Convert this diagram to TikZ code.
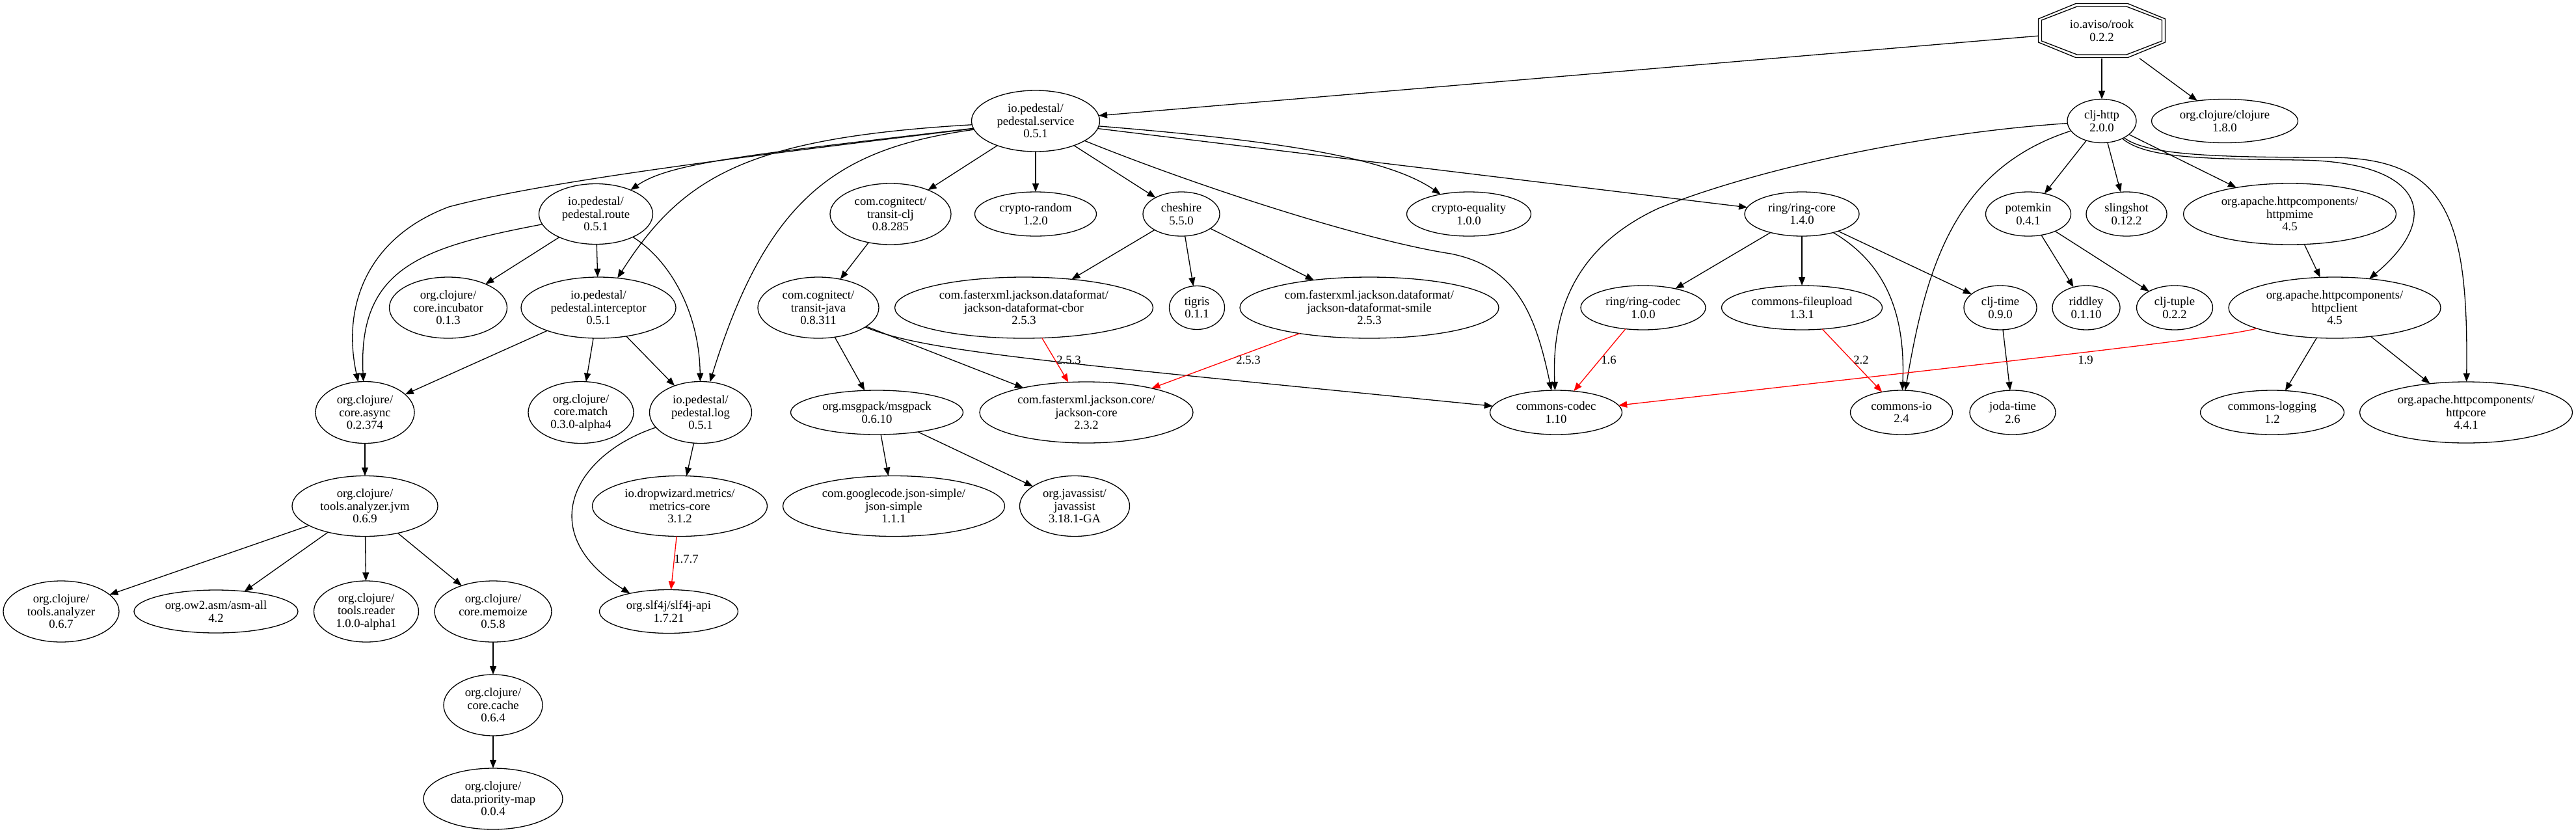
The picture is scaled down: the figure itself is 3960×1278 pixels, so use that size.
\documentclass[tikz,border=0pt]{standalone}
\usepackage{fontspec}
\setmainfont{Liberation Serif}
\usetikzlibrary{shapes.geometric,arrows.meta}
\begin{document}
\begin{tikzpicture}[x=1pt,y=-1pt,
  every node/.style={font=\fontsize{18.7}{19.5}\selectfont, align=center},
  dep/.style={ellipse, draw, line width=1.3pt, inner sep=0pt, outer sep=0pt},
  edge/.style={line width=1.3pt, -{Triangle[length=13pt,width=10pt]}},
  redge/.style={edge, draw=red},
  lbl/.style={inner sep=0pt}]
\useasboundingbox[fill=white] (0,0) rectangle (3960,1278);

% ---- rank 0
\node[inner sep=0pt, minimum width=195, minimum height=85] (rook) at (3231,47) {io.aviso/rook\\0.2.2};
\draw[line width=1.3pt, shift={(rook.center)}] (-40,-41.5) -- (40,-41.5) -- (97.5,-18) -- (97.5,18) -- (40,41.5) -- (-40,41.5) -- (-97.5,18) -- (-97.5,-18) -- cycle;
\draw[line width=1.3pt, shift={(rook.center)}] (-38,-37) -- (38,-37) -- (92.5,-16) -- (92.5,16) -- (38,37) -- (-38,37) -- (-92.5,16) -- (-92.5,-16) -- cycle;

% ---- rank 1
\node[dep,minimum width=197,minimum height=94] (svc) at (1592,186) {io.pedestal/\\pedestal.service\\0.5.1};
\node[dep,minimum width=106,minimum height=67] (http) at (3231,186) {clj-http\\2.0.0};
\node[dep,minimum width=225,minimum height=67] (clj) at (3420,186) {org.clojure/clojure\\1.8.0};

% ---- rank 2
\node[dep,minimum width=175,minimum height=93] (route) at (916,329) {io.pedestal/\\pedestal.route\\0.5.1};
\node[dep,minimum width=186,minimum height=94] (tclj) at (1369,329) {com.cognitect/\\transit-clj\\0.8.285};
\node[dep,minimum width=187,minimum height=68] (crand) at (1592,329) {crypto-random\\1.2.0};
\node[dep,minimum width=118,minimum height=68] (chesh) at (1816,329) {cheshire\\5.5.0};
\node[dep,minimum width=191,minimum height=68] (cequal) at (2258,329) {crypto-equality\\1.0.0};
\node[dep,minimum width=176,minimum height=68] (ringcore) at (2770,329) {ring/ring-core\\1.4.0};
\node[dep,minimum width=131,minimum height=68] (potemkin) at (3118,329) {potemkin\\0.4.1};
\node[dep,minimum width=124,minimum height=68] (sling) at (3269,329) {slingshot\\0.12.2};
\node[dep,minimum width=327,minimum height=94] (hmime) at (3520,329) {org.apache.httpcomponents/\\httpmime\\4.5};

% ---- rank 3
\node[dep,minimum width=181,minimum height=94] (incub) at (689,473) {org.clojure/\\core.incubator\\0.1.3};
\node[dep,minimum width=238,minimum height=94] (icpt) at (920,473) {io.pedestal/\\pedestal.interceptor\\0.5.1};
\node[dep,minimum width=186,minimum height=94] (tjava) at (1258,473) {com.cognitect/\\transit-java\\0.8.311};
\node[dep,minimum width=397,minimum height=94] (cbor) at (1574,473) {com.fasterxml.jackson.dataformat/\\jackson-dataformat-cbor\\2.5.3};
\node[dep,minimum width=85,minimum height=67] (tigris) at (1840,473) {tigris\\0.1.1};
\node[dep,minimum width=398,minimum height=94] (smile) at (2105,473) {com.fasterxml.jackson.dataformat/\\jackson-dataformat-smile\\2.5.3};
\node[dep,minimum width=192,minimum height=68] (rcodec) at (2526,473) {ring/ring-codec\\1.0.0};
\node[dep,minimum width=247,minimum height=68] (fup) at (2770,473) {commons-fileupload\\1.3.1};
\node[dep,minimum width=112,minimum height=68] (ctime) at (3075,473) {clj-time\\0.9.0};
\node[dep,minimum width=104,minimum height=68] (riddley) at (3207,473) {riddley\\0.1.10};
\node[dep,minimum width=117,minimum height=68] (tuple) at (3343,473) {clj-tuple\\0.2.2};
\node[dep,minimum width=326,minimum height=94] (hclient) at (3589,473) {org.apache.httpcomponents/\\httpclient\\4.5};

% ---- rank 4
\node[dep,minimum width=152,minimum height=95] (async) at (561,634) {org.clojure/\\core.async\\0.2.374};
\node[dep,minimum width=162,minimum height=95] (match) at (893,634) {org.clojure/\\core.match\\0.3.0-alpha4};
\node[dep,minimum width=157,minimum height=95] (plog) at (1077,634) {io.pedestal/\\pedestal.log\\0.5.1};
\node[dep,minimum width=265,minimum height=68] (msgpack) at (1348,634) {org.msgpack/msgpack\\0.6.10};
\node[dep,minimum width=328,minimum height=94] (jcore) at (1670,634) {com.fasterxml.jackson.core/\\jackson-core\\2.3.2};
\node[dep,minimum width=203,minimum height=68] (codec) at (2392,634) {commons-codec\\1.10};
\node[dep,minimum width=157,minimum height=68] (cio) at (2923,634) {commons-io\\2.4};
\node[dep,minimum width=132,minimum height=68] (joda) at (3094,634) {joda-time\\2.6};
\node[dep,minimum width=221,minimum height=68] (clog) at (3493,634) {commons-logging\\1.2};
\node[dep,minimum width=327,minimum height=94] (hcore) at (3791,634) {org.apache.httpcomponents/\\httpcore\\4.4.1};

% ---- rank 5
\node[dep,minimum width=224,minimum height=93] (jvm) at (561,778) {org.clojure/\\tools.analyzer.jvm\\0.6.9};
\node[dep,minimum width=269,minimum height=93] (metrics) at (1045,778) {io.dropwizard.metrics/\\metrics-core\\3.1.2};
\node[dep,minimum width=341,minimum height=93] (jsimple) at (1374,778) {com.googlecode.json-simple/\\json-simple\\1.1.1};
\node[dep,minimum width=169,minimum height=93] (javassist) at (1652,778) {org.javassist/\\javassist\\3.18.1-GA};

% ---- rank 6..8
\node[dep,minimum width=178,minimum height=94] (tan) at (94,940) {org.clojure/\\tools.analyzer\\0.6.7};
\node[dep,minimum width=252,minimum height=66] (asm) at (332,940) {org.ow2.asm/asm-all\\4.2};
\node[dep,minimum width=161,minimum height=94] (reader) at (563,940) {org.clojure/\\tools.reader\\1.0.0-alpha1};
\node[dep,minimum width=180,minimum height=94] (memo) at (758,940) {org.clojure/\\core.memoize\\0.5.8};
\node[dep,minimum width=213,minimum height=67] (slf) at (1028,940) {org.slf4j/slf4j-api\\1.7.21};
\node[dep,minimum width=152,minimum height=94] (cache) at (758,1084) {org.clojure/\\core.cache\\0.6.4};
\node[dep,minimum width=214,minimum height=94] (pmap) at (758,1228) {org.clojure/\\data.priority-map\\0.0.4};

% ---- edge labels
\node[lbl] (l1) at (1643,553) {2.5.3};
\node[lbl] (l2) at (1919,553) {2.5.3};
\node[lbl] (l3) at (2473,553) {1.6};
\node[lbl] (l4) at (2861,553) {2.2};
\node[lbl] (l5) at (3206,553) {1.9};
\node[lbl] (l6) at (1055,859) {1.7.7};

% ---- edges from rook
\draw[edge] (rook) -- (svc);
\draw[edge] (rook) -- (http);
\draw[edge] (rook) -- (clj);

% ---- edges from pedestal.service
\draw[edge] (svc) .. controls (1150,238) and (1030,250) .. (route);
\draw[edge] (svc) .. controls (1150,240) and (840,278) .. (690,318) .. controls (565,365) and (525,470) .. (async);
\draw[edge] (svc) .. controls (1150,212) and (1050,270) .. (icpt);
\draw[edge] (svc) .. controls (1290,228) and (1180,300) .. (plog);
\draw[edge] (svc) -- (tclj);
\draw[edge] (svc) -- (crand);
\draw[edge] (svc) -- (chesh);
\draw[edge] (svc) .. controls (1950,215) and (2130,240) .. (cequal);
\draw[edge] (svc) .. controls (1850,290) and (2100,370) .. (2230,390) .. controls (2330,410) and (2360,480) .. (codec);
\draw[edge] (svc) -- (ringcore);

% ---- pedestal.route / interceptor
\draw[edge] (route) .. controls (650,380) and (550,410) .. (async);
\draw[edge] (route) -- (incub);
\draw[edge] (route) -- (icpt);
\draw[edge] (route) .. controls (1030,400) and (1075,480) .. (plog);
\draw[edge] (icpt) -- (async);
\draw[edge] (icpt) -- (match);
\draw[edge] (icpt) -- (plog);

% ---- core.async chain
\draw[edge] (async) -- (jvm);
\draw[edge] (jvm) -- (tan);
\draw[edge] (jvm) -- (asm);
\draw[edge] (jvm) -- (reader);
\draw[edge] (jvm) -- (memo);
\draw[edge] (memo) -- (cache);
\draw[edge] (cache) -- (pmap);

% ---- pedestal.log
\draw[edge] (plog) -- (metrics);
\draw[edge] (plog) .. controls (880,700) and (820,820) .. (slf.155);
\draw[redge] (metrics) -- (slf);

% ---- transit
\draw[edge] (tclj) -- (tjava);
\draw[edge] (tjava) -- (msgpack);
\draw[edge] (tjava) -- (jcore);
\draw[edge] (tjava) .. controls (1420,540) and (1600,555) .. (codec);
\draw[edge] (msgpack) -- (jsimple);
\draw[edge] (msgpack) -- (javassist);

% ---- cheshire
\draw[edge] (chesh) -- (cbor);
\draw[edge] (chesh) -- (tigris);
\draw[edge] (chesh) -- (smile);
\draw[redge] (cbor) -- (jcore);
\draw[redge] (smile) -- (jcore);

% ---- ring-core
\draw[edge] (ringcore) -- (rcodec);
\draw[edge] (ringcore) -- (fup);
\draw[edge] (ringcore) .. controls (2890,400) and (2930,470) .. (cio);
\draw[edge] (ringcore) -- (ctime);
\draw[redge] (rcodec) -- (codec);
\draw[redge] (fup) -- (cio);
\draw[edge] (ctime) -- (joda);

% ---- clj-http
\draw[edge] (http) .. controls (2950,205) and (2700,260) .. (2550,320) .. controls (2420,380) and (2385,480) .. (codec);
\draw[edge] (http) .. controls (3000,260) and (2960,420) .. (cio);
\draw[edge] (http) -- (potemkin);
\draw[edge] (http) -- (sling);
\draw[edge] (http) -- (hmime);
\draw[edge] (http) .. controls (3300,245) and (3400,244) .. (3534,246) .. controls (3720,248) and (3760,330) .. (hclient);
\draw[edge] (http) .. controls (3300,238) and (3400,242) .. (3580,242) .. controls (3760,242) and (3795,330) .. (hcore);
\draw[edge] (potemkin) -- (riddley);
\draw[edge] (potemkin) -- (tuple);
\draw[edge] (hmime) -- (hclient);
\draw[redge] (hclient) .. controls (3420,518) and (3200,543) .. (codec);
\draw[edge] (hclient) -- (clog);
\draw[edge] (hclient) -- (hcore);
\end{tikzpicture}
\end{document}
